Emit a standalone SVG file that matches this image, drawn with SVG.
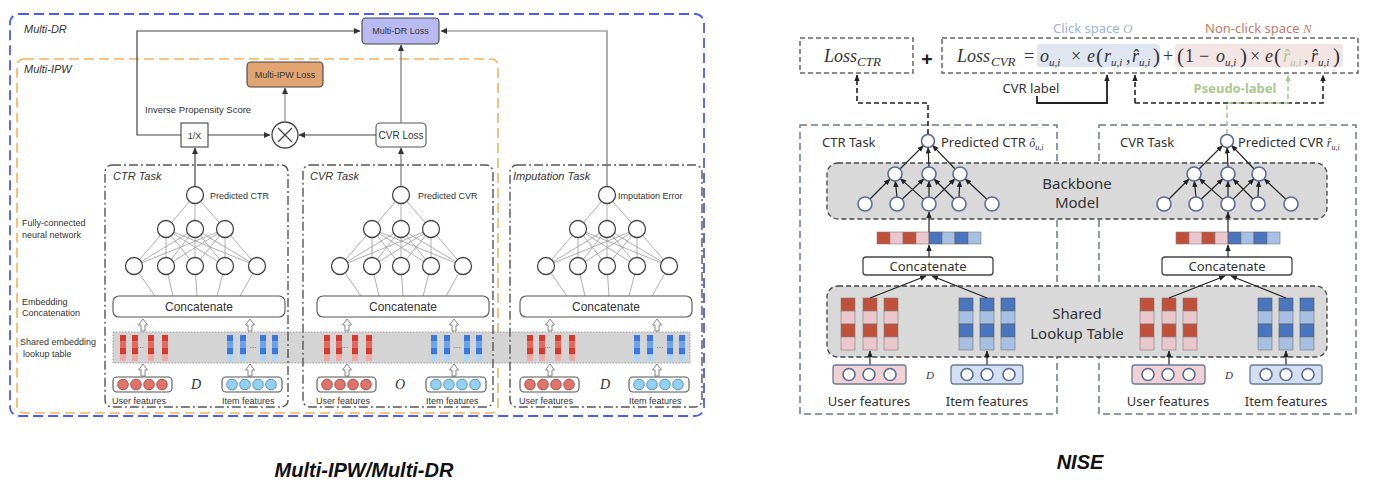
<svg xmlns="http://www.w3.org/2000/svg" width="1378" height="492" viewBox="0 0 1378 492">
<defs>
<style>
.t{font-family:"Liberation Sans",Arial,sans-serif;fill:#333}
.ti{font-family:"Liberation Sans",Arial,sans-serif;font-style:italic;font-size:11px;fill:#333}
.dd{fill:none;stroke:#555;stroke-width:1.4;stroke-dasharray:9 3 2 3}
.conn{fill:none;stroke:#444;stroke-width:1.2}
.nne{fill:none;stroke:#999;stroke-width:0.8}
.nnc{fill:#fff;stroke:#444;stroke-width:1.3}
.hol{fill:#fff;stroke:#777;stroke-width:0.9}
.fbox{fill:#fff;stroke:#555;stroke-width:1.1}
.ucir{fill:#e0746a;stroke:#9a3b35;stroke-width:0.8}
.icir{fill:#93d0f2;stroke:#3d7fae;stroke-width:0.8}
.r1{fill:#d8392d}.r2{fill:#e7675c}.r3{fill:#f1aaa3}
.b1{fill:#3a78de}.b2{fill:#69a4ec}.b3{fill:#acd7f7}
.n{font-family:"Noto Sans","Open Sans",sans-serif;fill:#333}
.tb{fill:none;stroke:#6c7890;stroke-width:1.5;stroke-dasharray:7 4}
.gb{fill:#d9d9d9;stroke:#444;stroke-width:1.3;stroke-dasharray:5 3}
.rn{fill:#fff;stroke:#5b6a96;stroke-width:1.6}
.ra{fill:none;stroke:#222;stroke-width:1.2;marker-end:url(#ah)}
.m{font-family:"Liberation Serif","DejaVu Serif",serif;font-style:italic;fill:#333}
.mu{font-family:"Liberation Serif","DejaVu Serif",serif;fill:#333}
.rc1{fill:#c0503a;stroke:#8a7a7a;stroke-width:0.6}
.rc2{fill:#e9c7cc;stroke:#8a7a7a;stroke-width:0.6}
.bc1{fill:#4a76c0;stroke:#555;stroke-width:0.6}
.bc2{fill:#a5c0e2;stroke:#777;stroke-width:0.6}
</style>
<marker id="al" markerWidth="7" markerHeight="7" refX="6" refY="3.5" orient="auto" markerUnits="userSpaceOnUse"><path d="M0,0.5L6.5,3.5L0,6.5z" fill="#333"/></marker>
<marker id="ah" markerWidth="7" markerHeight="7" refX="6" refY="3.5" orient="auto" markerUnits="userSpaceOnUse"><path d="M0,0.8L6.5,3.5L0,6.2z" fill="#222"/></marker>
<marker id="ag" markerWidth="7" markerHeight="7" refX="6" refY="3.5" orient="auto" markerUnits="userSpaceOnUse"><path d="M0,0.8L6.5,3.5L0,6.2z" fill="#a9c893"/></marker>
<path id="ha" class="hol" d="M-2,6V0H-4.5L0,-6L4.5,0H2V6Z"/>
<g id="rcol"><rect class="r1" width="6" height="6.5"/><rect class="r2" y="6.5" width="6" height="6.5"/><rect class="r1" y="13" width="6" height="6.5"/><rect class="r3" y="19.5" width="6" height="6.5"/></g>
<g id="bcol"><rect class="b1" width="6" height="6.5"/><rect class="b2" y="6.5" width="6" height="6.5"/><rect class="b1" y="13" width="6" height="6.5"/><rect class="b3" y="19.5" width="6" height="6.5"/></g>
<g id="lnn">
<path class="nne" d="M195,195L166,229M195,195L195,229M195,195L225,229M166,229L134,266M166,229L166,266M166,229L195,266M166,229L225,266M166,229L257,266M195,229L134,266M195,229L166,266M195,229L195,266M195,229L225,266M195,229L257,266M225,229L134,266M225,229L166,266M225,229L195,266M225,229L225,266M225,229L257,266M134,266L155,296M166,266L173,296M195,266L197,296M225,266L217,296M257,266L240,296"/>
<circle class="nnc" cx="195" cy="195" r="8.5"/>
<circle class="nnc" cx="166" cy="229" r="8.5"/><circle class="nnc" cx="195" cy="229" r="8.5"/><circle class="nnc" cx="225" cy="229" r="8.5"/>
<circle class="nnc" cx="134" cy="266" r="8.5"/><circle class="nnc" cx="166" cy="266" r="8.5"/><circle class="nnc" cx="195" cy="266" r="8.5"/><circle class="nnc" cx="225" cy="266" r="8.5"/><circle class="nnc" cx="257" cy="266" r="8.5"/>
</g>
<g id="lbottom">
<rect x="113" y="296" width="172" height="21" rx="6" fill="#fff" stroke="#555" stroke-width="1.1"/>
<text class="t" x="199" y="311" font-size="12" text-anchor="middle">Concatenate</text>
<use href="#ha" x="143" y="325"/><use href="#ha" x="250" y="325"/>
<use href="#rcol" x="120" y="335"/><use href="#rcol" x="132" y="335"/><use href="#rcol" x="148" y="335"/><use href="#rcol" x="162" y="335"/>
<text class="t" x="140.5" y="350" font-size="7" text-anchor="middle">···</text>
<use href="#bcol" x="227" y="335"/><use href="#bcol" x="240" y="335"/><use href="#bcol" x="260" y="335"/><use href="#bcol" x="272" y="335"/>
<text class="t" x="253" y="350" font-size="7" text-anchor="middle">···</text>
<use href="#ha" x="143" y="370"/><use href="#ha" x="250" y="370"/>
<rect class="fbox" x="113" y="377" width="59" height="15" rx="4"/>
<circle class="ucir" cx="123" cy="384.5" r="5.3"/><circle class="ucir" cx="136" cy="384.5" r="5.3"/><circle class="ucir" cx="149" cy="384.5" r="5.3"/><circle class="ucir" cx="162" cy="384.5" r="5.3"/>
<rect class="fbox" x="222" y="377" width="60" height="15" rx="4"/>
<circle class="icir" cx="232" cy="384.5" r="5.3"/><circle class="icir" cx="245" cy="384.5" r="5.3"/><circle class="icir" cx="258" cy="384.5" r="5.3"/><circle class="icir" cx="271" cy="384.5" r="5.3"/>
<text class="t" x="112" y="404" font-size="9">User features</text>
<text class="t" x="222" y="404" font-size="9">Item features</text>
</g>
<g id="rnn">
<path class="ra" d="M870,199L890,179"/>
<path class="ra" d="M897,197L895.3,181"/>
<path class="ra" d="M923.7,199.4L900.3,178.6"/>
<path class="ra" d="M902.1,199.2L923.9,178.8"/>
<path class="ra" d="M929,197L929,181"/>
<path class="ra" d="M954,199L934,179"/>
<path class="ra" d="M934,199.1L955,178.9"/>
<path class="ra" d="M959,197L959.8,181"/>
<path class="ra" d="M986.9,199.2L965.1,178.8"/>
<path class="ra" d="M900,169L923.4,145.6"/>
<path class="ra" d="M929,167L928.1,147.5"/>
<path class="ra" d="M955.1,169L932.5,145.3"/>
<circle class="rn" cx="928" cy="141" r="6.5"/>
<circle class="rn" cx="895" cy="174" r="7"/><circle class="rn" cx="929" cy="174" r="7"/><circle class="rn" cx="960" cy="174" r="7"/>
<circle class="rn" cx="865" cy="204" r="7"/><circle class="rn" cx="897" cy="204" r="7"/><circle class="rn" cx="929" cy="204" r="7"/><circle class="rn" cx="959" cy="204" r="7"/><circle class="rn" cx="992" cy="204" r="7"/>
</g>
<g id="rbar">
<rect x="877" y="232" width="13" height="12" class="rc1"/><rect x="890" y="232" width="13" height="12" class="rc2"/><rect x="903" y="232" width="13" height="12" class="rc1"/><rect x="916" y="232" width="13" height="12" class="rc2"/>
<rect x="929" y="232" width="13" height="12" class="bc1"/><rect x="942" y="232" width="13" height="12" class="bc2"/><rect x="955" y="232" width="13" height="12" class="bc1"/><rect x="968" y="232" width="13" height="12" class="bc2"/>
<path class="ra" d="M929,257V245"/>
<path class="ra" d="M929,232V212"/>
<rect x="863" y="257" width="130" height="18" rx="3" fill="#fff" stroke="#444" stroke-width="1.3"/>
<text class="n" x="928" y="271" font-size="13" text-anchor="middle">Concatenate</text>
</g>
<g id="rrcol"><rect class="rc1" width="14" height="13"/><rect class="rc2" y="13" width="14" height="13"/><rect class="rc1" y="26" width="14" height="13"/><rect class="rc2" y="39" width="14" height="13"/></g>
<g id="rbcol"><rect class="bc1" width="14" height="13"/><rect class="bc2" y="13" width="14" height="13"/><rect class="bc1" y="26" width="14" height="13"/><rect class="bc2" y="39" width="14" height="13"/></g>
<g id="rlook">
<use href="#rrcol" x="841" y="298"/><use href="#rrcol" x="863" y="298"/><use href="#rrcol" x="884" y="298"/>
<use href="#rbcol" x="959" y="298"/><use href="#rbcol" x="980" y="298"/><use href="#rbcol" x="1001" y="298"/>
<path class="ra" d="M870,298L926,276"/>
<path class="ra" d="M987,298L932,276"/>
<path class="ra" d="M870,365V351"/>
<path class="ra" d="M987,365V351"/>
<rect x="833" y="365" width="73" height="19" rx="3" fill="#f0d2d4" stroke="#6a7a9a" stroke-width="1.3"/>
<circle class="rn" cx="849" cy="374.5" r="6"/><circle class="rn" cx="869" cy="374.5" r="6"/><circle class="rn" cx="890" cy="374.5" r="6"/>
<rect x="951" y="365" width="72" height="19" rx="3" fill="#d3e0f1" stroke="#6a7a9a" stroke-width="1.3"/>
<circle class="rn" cx="967" cy="374.5" r="6"/><circle class="rn" cx="987" cy="374.5" r="6"/><circle class="rn" cx="1009" cy="374.5" r="6"/>
<text class="m" x="930" y="379" font-size="11" text-anchor="middle">D</text>
<text class="n" x="869" y="406" font-size="13" text-anchor="middle">User features</text>
<text class="n" x="987" y="406" font-size="13" text-anchor="middle">Item features</text>
</g>
</defs>

<rect width="1378" height="492" fill="#fff"/>

<!-- ============ LEFT: Multi-IPW / Multi-DR ============ -->
<g id="multi-dr-frame">
<rect x="10" y="14" width="694" height="402" rx="9" fill="none" stroke="#4b5cf2" stroke-width="1.8" stroke-dasharray="10 5"/>
<text class="ti" x="24" y="33">Multi-DR</text>
</g>
<g id="multi-ipw-frame">
<rect x="17" y="59" width="481" height="354" rx="7" fill="none" stroke="#f2b35e" stroke-width="1.6" stroke-dasharray="10 5"/>
<text class="ti" x="24" y="73">Multi-IPW</text>
</g>

<g id="side-labels" class="t" font-size="9">
<text x="22" y="226">Fully-connected</text>
<text x="22" y="238">neural network</text>
<text x="22" y="305">Embedding</text>
<text x="22" y="316">Concatenation</text>
<text x="20" y="345">Shared embedding</text>
<text x="23" y="357">lookup table</text>
</g>

<g id="shared-embedding-band">
<rect x="113" y="332" width="577" height="31" fill="#d4d4d4" stroke="#999" stroke-width="1" stroke-dasharray="1.5 1.5"/>
</g>

<g id="ctr-task">
<rect class="dd" x="105" y="165" width="183" height="242" rx="7"/>
<text class="ti" x="113" y="180">CTR Task</text>
<use href="#lnn"/>
<text class="t" x="210" y="199" font-size="9">Predicted CTR</text>
<use href="#lbottom"/>
<text class="m" x="196" y="389" font-size="14" text-anchor="middle">D</text>
</g>

<g id="cvr-task">
<rect class="dd" x="303" y="165" width="190" height="242" rx="7"/>
<text class="ti" x="310" y="180">CVR Task</text>
<use href="#lnn" x="206"/>
<text class="t" x="418" y="199" font-size="9">Predicted CVR</text>
<use href="#lbottom" x="204"/>
<text class="m" x="400" y="389" font-size="14" text-anchor="middle">O</text>
</g>

<g id="imputation-task">
<rect class="dd" x="510" y="165" width="192" height="242" rx="7"/>
<text class="ti" x="513" y="180">Imputation Task</text>
<use href="#lnn" x="412"/>
<text class="t" x="618" y="199" font-size="9">Imputation Error</text>
<use href="#lbottom" x="407"/>
<text class="m" x="605" y="389" font-size="14" text-anchor="middle">D</text>
</g>

<g id="multi-dr-loss">
<rect x="362" y="18" width="77" height="26" rx="4" fill="#babaf2" stroke="#444" stroke-width="1.1"/>
<text class="t" x="400.5" y="34" font-size="9" text-anchor="middle">Multi-DR Loss</text>
</g>
<g id="multi-ipw-loss">
<rect x="247" y="62" width="76" height="25" rx="4" fill="#e2a571" stroke="#444" stroke-width="1.1"/>
<text class="t" x="285" y="78" font-size="9" text-anchor="middle">Multi-IPW Loss</text>
</g>
<g id="inverse-propensity">
<rect x="181" y="123" width="27" height="24" fill="#fff" stroke="#444" stroke-width="1.1"/>
<text class="t" x="194.5" y="139" font-size="9" text-anchor="middle">1/X</text>
<text class="t" x="145" y="113" font-size="9.5">Inverse Propensity Score</text>
</g>
<g id="multiply">
<circle cx="285" cy="135" r="13" fill="#fff" stroke="#444" stroke-width="1.3"/>
<path d="M278,128L292,142M292,128L278,142" stroke="#444" stroke-width="1.3"/>
</g>
<g id="cvr-loss">
<rect x="376" y="123" width="50" height="24" rx="4" fill="#fff" stroke="#555" stroke-width="1.1"/>
<text class="t" x="401" y="139" font-size="10" text-anchor="middle">CVR Loss</text>
</g>

<g id="left-connectors" class="conn">
<path d="M181,135H137V31H360" marker-end="url(#al)"/>
<path d="M208,135H270" marker-end="url(#al)"/>
<path d="M376,135H299" marker-end="url(#al)"/>
<path d="M285,122V88" stroke="#888" marker-end="url(#al)"/>
<path d="M401,123V45" stroke="#777" marker-end="url(#al)"/>
<path d="M607,186V31H441" stroke="#777" marker-end="url(#al)"/>
<path d="M195,186V148" marker-end="url(#al)"/>
<path d="M401,186V148" stroke="#777" marker-end="url(#al)"/>
</g>

<text class="t" x="364" y="477" font-size="20" font-weight="bold" font-style="italic" style="fill:#111" text-anchor="middle">Multi-IPW/Multi-DR</text>

<!-- ============ RIGHT: NISE ============ -->
<g id="ctr-task-r">
<rect class="tb" x="800" y="125" width="257" height="289"/>
<text class="n" x="822" y="147" font-size="13">CTR Task</text>
</g>
<g id="cvr-task-r">
<rect class="tb" x="1099" y="125" width="257" height="289"/>
<text class="n" x="1120" y="147" font-size="13">CVR Task</text>
</g>

<g id="backbone-model">
<rect class="gb" x="827" y="163" width="500" height="56" rx="11"/>
<text class="n" x="1077" y="189" font-size="15" text-anchor="middle">Backbone</text>
<text class="n" x="1077" y="208" font-size="15" text-anchor="middle">Model</text>
</g>
<g id="shared-lookup-table">
<rect class="gb" x="827" y="286" width="500" height="71" rx="11"/>
<text class="n" x="1077" y="319" font-size="15" text-anchor="middle">Shared</text>
<text class="n" x="1077" y="339" font-size="15" text-anchor="middle">Lookup Table</text>
</g>

<g id="ctr-net-r">
<use href="#rnn"/>
<text class="n" x="941" y="147" font-size="13">Predicted CTR <tspan class="m" font-size="12">ô</tspan><tspan class="m" font-size="8" dy="3">u,i</tspan></text>
<use href="#rbar"/>
<use href="#rlook"/>
</g>
<g id="cvr-net-r">
<use href="#rnn" x="299"/>
<text class="n" x="1238" y="147" font-size="13">Predicted CVR <tspan class="m" font-size="12">r̂</tspan><tspan class="m" font-size="8" dy="3">u,i</tspan></text>
<use href="#rbar" x="299"/>
<use href="#rlook" x="299"/>
</g>

<g id="loss-ctr">
<rect x="800" y="38" width="113" height="35" fill="none" stroke="#666" stroke-width="1.5" stroke-dasharray="5 3"/>
<text class="m" x="824" y="62" font-size="18">Loss<tspan font-size="13" dy="4">CTR</tspan></text>
</g>
<text class="n" x="927" y="66" font-size="20" font-weight="bold" text-anchor="middle" style="fill:#222">+</text>
<g id="loss-cvr">
<rect x="942" y="38" width="416" height="35" fill="none" stroke="#666" stroke-width="1.5" stroke-dasharray="5 3"/>
<rect x="1037" y="44" width="123" height="23" rx="3" fill="#dfe6ef"/>
<rect x="1175" y="44" width="168" height="23" rx="3" fill="#f3e5e3"/>
<text class="m" font-size="18">
<tspan x="957" y="62">Loss</tspan><tspan x="991" y="66" font-size="13">CVR</tspan>
<tspan class="mu" x="1024" y="62" font-style="normal">=</tspan>
<tspan x="1040" y="62">o</tspan><tspan x="1049" y="66" font-size="11">u,i</tspan>
<tspan x="1071" y="62" font-style="normal">×</tspan>
<tspan x="1087" y="62">e</tspan><tspan x="1096" y="63" font-style="normal" font-size="21">(</tspan>
<tspan x="1104" y="62">r</tspan><tspan x="1111" y="66" font-size="11">u,i</tspan><tspan x="1126" y="62">,</tspan>
<tspan x="1132" y="62">r̂</tspan><tspan x="1139" y="66" font-size="11">u,i</tspan><tspan x="1153" y="63" font-style="normal" font-size="21">)</tspan>
<tspan x="1163" y="62" font-style="normal">+</tspan>
<tspan x="1177" y="63" font-style="normal" font-size="21">(</tspan><tspan x="1185" y="62" font-style="normal">1</tspan>
<tspan x="1199" y="62" font-style="normal">−</tspan>
<tspan x="1216" y="62">o</tspan><tspan x="1225" y="66" font-size="11">u,i</tspan><tspan x="1240" y="63" font-style="normal" font-size="21">)</tspan>
<tspan x="1250" y="62" font-style="normal">×</tspan>
<tspan x="1265" y="62">e</tspan><tspan x="1274" y="63" font-style="normal" font-size="21">(</tspan>
<tspan x="1283" y="62" style="fill:#a9c893">r̂</tspan><tspan x="1290" y="66" font-size="11" style="fill:#a9c893">u,i</tspan><tspan x="1304" y="62">,</tspan>
<tspan x="1311" y="62">r̂</tspan><tspan x="1318" y="66" font-size="11">u,i</tspan><tspan x="1333" y="63" font-style="normal" font-size="21">)</tspan>
</text>
<text class="n" x="1053" y="33" font-size="13" style="fill:#9db2d8">Click space <tspan class="m" style="fill:#9db2d8">O</tspan></text>
<text class="n" x="1205" y="33" font-size="13" style="fill:#c47a6a">Non-click space <tspan class="m" style="fill:#c47a6a">N</tspan></text>
</g>

<g id="label-texts">
<text class="n" x="1031" y="93" font-size="13" text-anchor="middle">CVR label</text>
<text class="n" x="1235" y="93" font-size="13" font-weight="bold" style="fill:#a9c893" text-anchor="middle">Pseudo-label</text>
</g>

<g id="right-connectors">
<path d="M928,134V103H857V75" fill="none" stroke="#222" stroke-width="1.6" stroke-dasharray="5 3" marker-end="url(#ah)"/>
<path d="M1037,96V103H1107V75" fill="none" stroke="#222" stroke-width="1.8" marker-end="url(#ah)"/>
<path d="M1135,103V75" fill="none" stroke="#222" stroke-width="1.6" stroke-dasharray="5 3" marker-end="url(#ah)"/>
<path d="M1135,103H1323V75" fill="none" stroke="#222" stroke-width="1.6" stroke-dasharray="5 3" marker-end="url(#ah)"/>
<path d="M1227,134V103H1288V75" fill="none" stroke="#a9c893" stroke-width="1.6" stroke-dasharray="5 3" marker-end="url(#ag)"/>
</g>

<text class="t" x="1080" y="469" font-size="20" font-weight="bold" font-style="italic" style="fill:#111" text-anchor="middle">NISE</text>
</svg>
